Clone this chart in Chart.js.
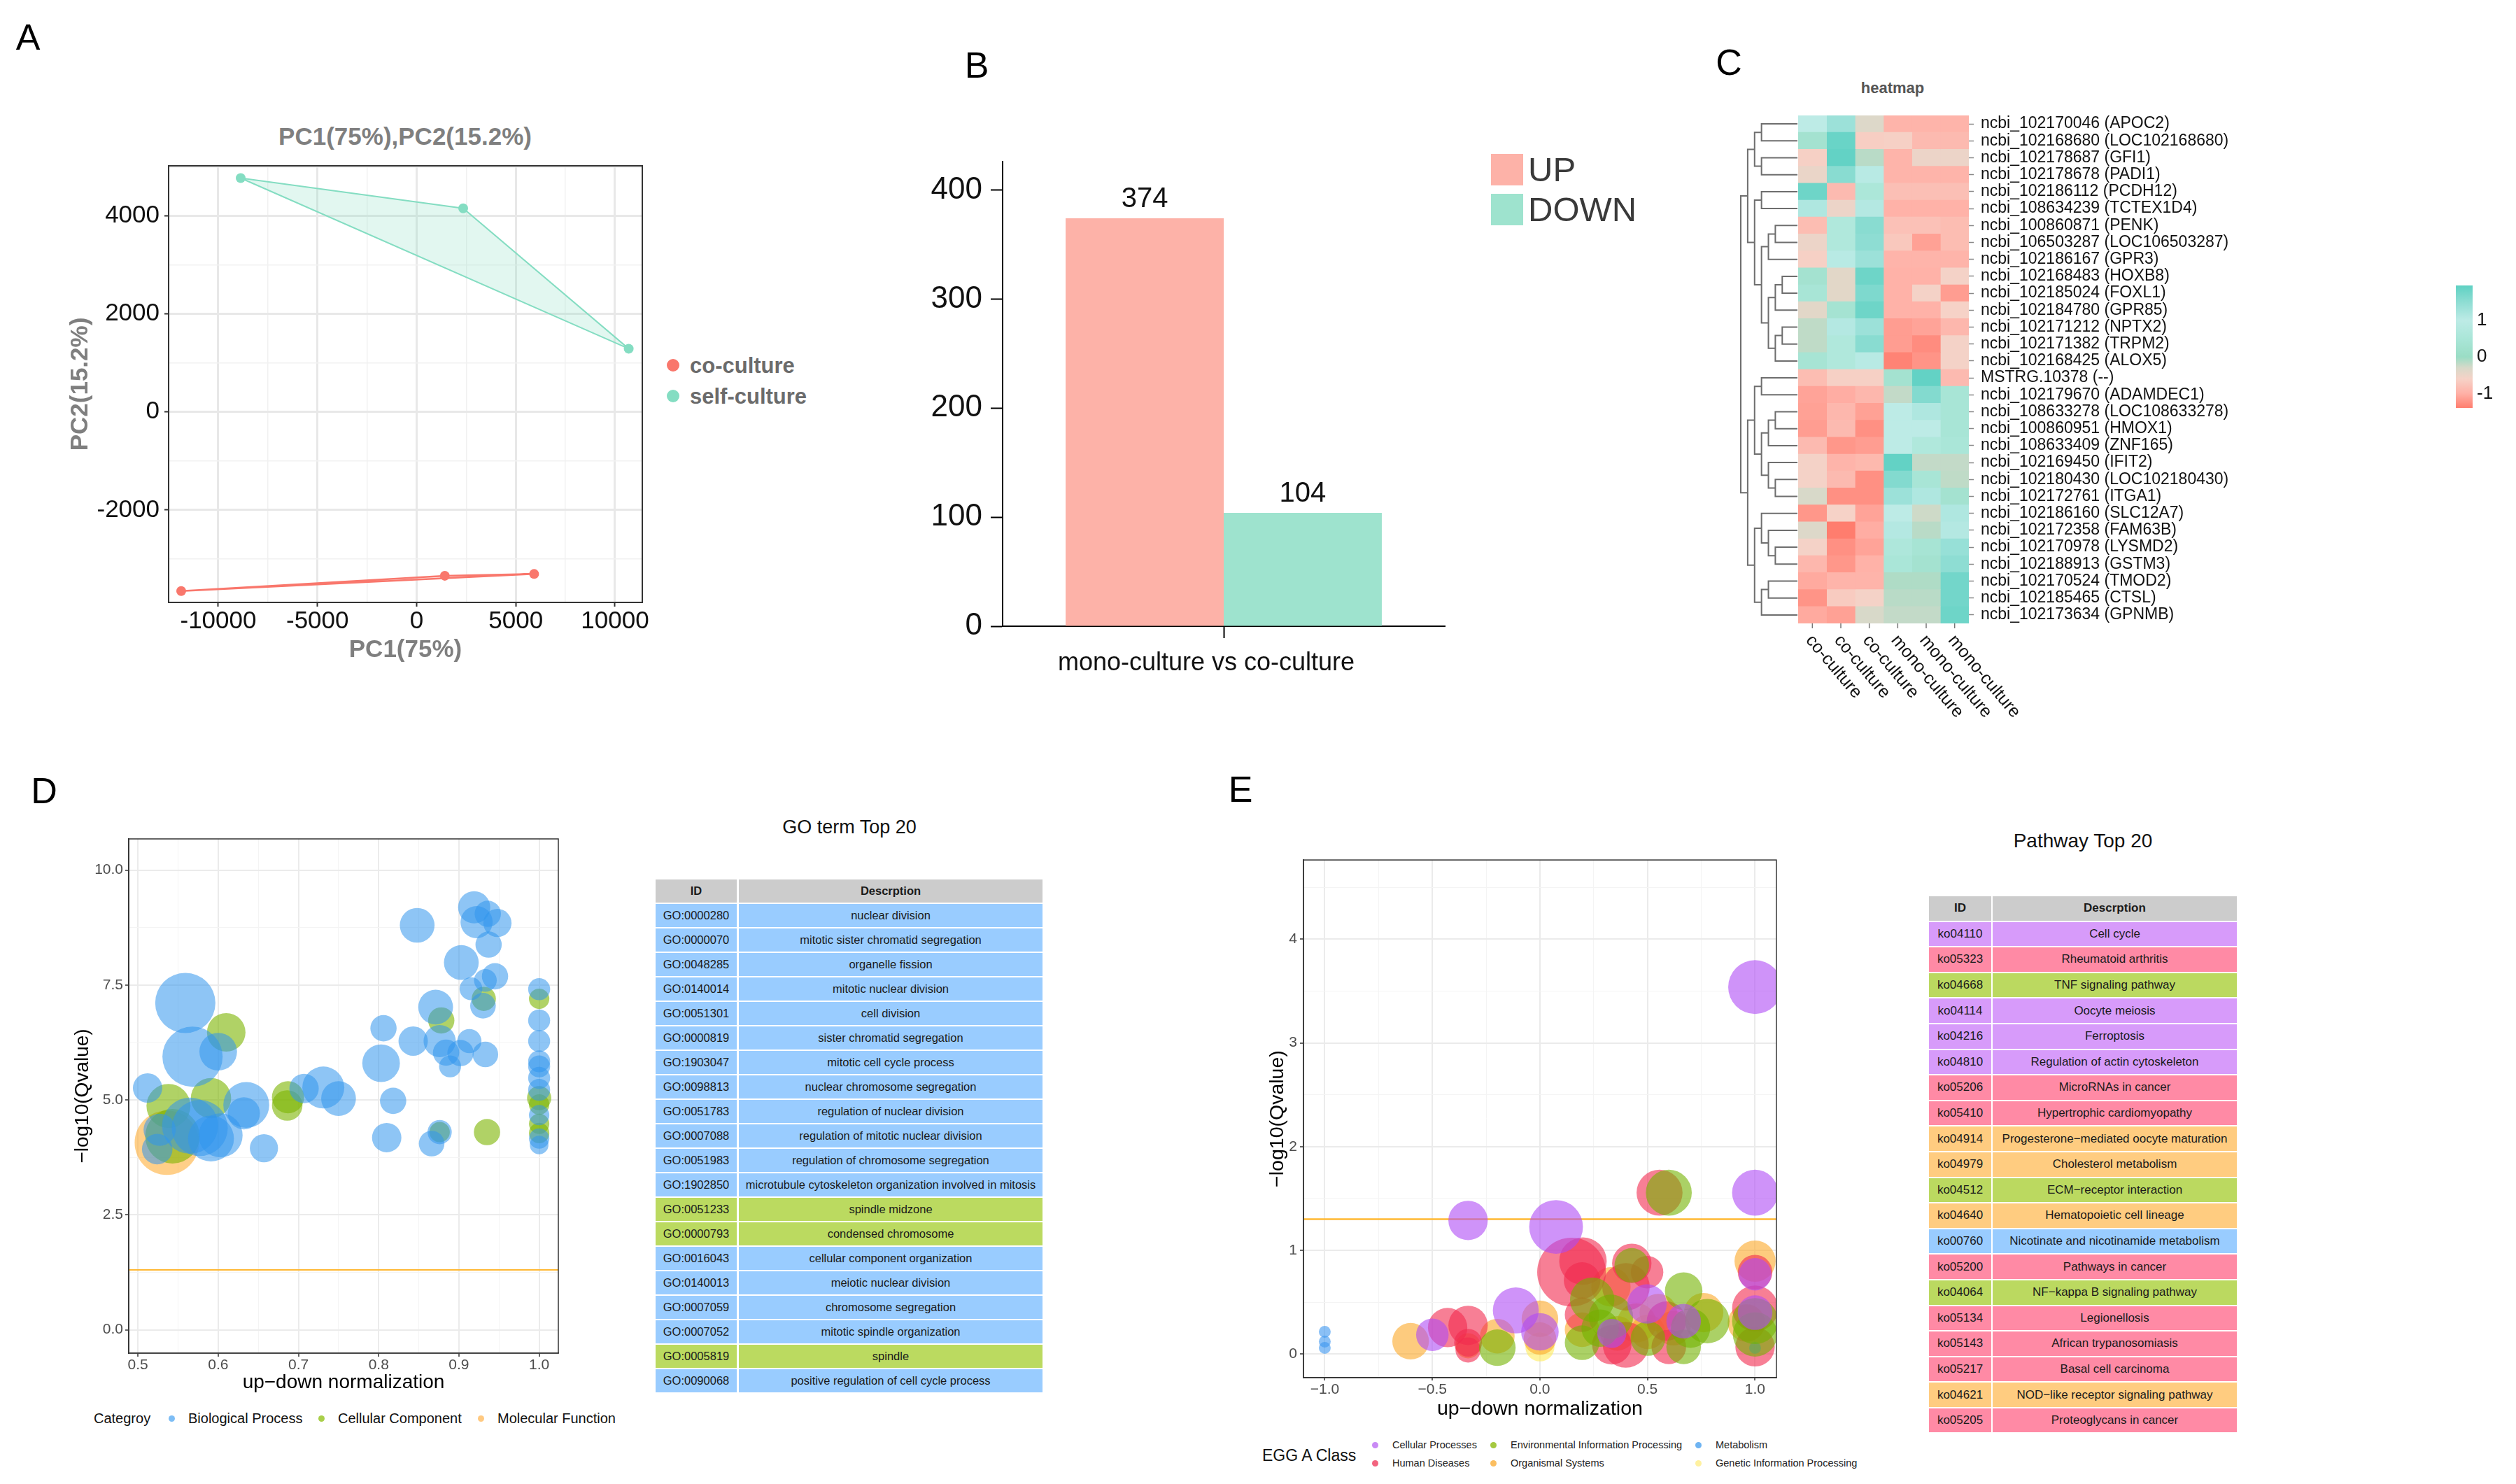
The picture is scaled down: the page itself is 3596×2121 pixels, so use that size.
<!DOCTYPE html>
<html><head><meta charset="utf-8">
<script src="https://cdn.jsdelivr.net/npm/chart.js@4.4.1/dist/chart.umd.min.js"></script>
<style>
html,body{margin:0;padding:0;background:#fff;}
body{width:3596px;height:2121px;position:relative;overflow:hidden;font-family:'Liberation Sans',Arial,sans-serif;color:#111;}
canvas{position:absolute;}
.lbl{position:absolute;white-space:nowrap;line-height:1;}
.dot{position:absolute;border-radius:50%;}
table.tb{position:absolute;border-collapse:separate;border-spacing:0;font-family:'Liberation Sans',Arial,sans-serif;color:#1a1a1a;}
table.tb td{padding:0;text-align:center;vertical-align:middle;border-bottom:2px solid #fff;white-space:nowrap;}
</style></head><body>
<script>
// ================= DATA =================
// Panel A : PCA
const pcaGroups = ['co-culture', 'self-culture'];
const coPC1 = [-11870, 1421, 5922];
const coPC2 = [-3655, -3342, -3306];
const selfPC1 = [-8871, 2346, 10691];
const selfPC2 = [4771, 4154, 1290];

// Panel B : DEG counts
const degCompare = ['mono-culture vs co-culture'];
const degLabels = ['UP', 'DOWN'];
const degCounts = [374, 104];

// Panel C : heatmap
const heatGenes = ['ncbi_102170046 (APOC2)','ncbi_102168680 (LOC102168680)','ncbi_102178687 (GFI1)','ncbi_102178678 (PADI1)','ncbi_102186112 (PCDH12)','ncbi_108634239 (TCTEX1D4)','ncbi_100860871 (PENK)','ncbi_106503287 (LOC106503287)','ncbi_102186167 (GPR3)','ncbi_102168483 (HOXB8)','ncbi_102185024 (FOXL1)','ncbi_102184780 (GPR85)','ncbi_102171212 (NPTX2)','ncbi_102171382 (TRPM2)','ncbi_102168425 (ALOX5)','MSTRG.10378 (--)','ncbi_102179670 (ADAMDEC1)','ncbi_108633278 (LOC108633278)','ncbi_100860951 (HMOX1)','ncbi_108633409 (ZNF165)','ncbi_102169450 (IFIT2)','ncbi_102180430 (LOC102180430)','ncbi_102172761 (ITGA1)','ncbi_102186160 (SLC12A7)','ncbi_102172358 (FAM63B)','ncbi_102170978 (LYSMD2)','ncbi_102188913 (GSTM3)','ncbi_102170524 (TMOD2)','ncbi_102185465 (CTSL)','ncbi_102173634 (GPNMB)'];
const heatSamples = ['co-culture','co-culture','co-culture','mono-culture','mono-culture','mono-culture'];
const heatZ = [
 [1.0, 1.35, -0.35, -0.95, -0.95, -0.95],
 [0.3, 1.85, -0.65, -0.62, -0.88, -0.88],
 [-0.62, 1.9, -0.15, -0.95, -0.5, -0.5],
 [-0.48, 1.55, 1.05, -0.95, -0.95, -0.95],
 [1.8, -0.88, 0.55, -0.82, -0.82, -0.82],
 [1.15, -0.5, 1.1, -0.98, -0.98, -0.98],
 [-0.85, 0.65, 1.55, -0.8, -0.8, -0.85],
 [-0.5, 0.65, 1.5, -0.72, -1.12, -0.85],
 [-0.62, 1.05, 1.35, -0.95, -0.95, -0.95],
 [0.3, -0.4, 1.8, -0.98, -0.98, -0.58],
 [0.45, -0.4, 1.65, -0.98, -0.58, -1.15],
 [-0.4, 0.35, 1.8, -0.98, -0.98, -0.6],
 [-0.18, 1.1, 1.35, -1.15, -1.1, -0.92],
 [-0.18, 0.65, 1.55, -1.15, -1.28, -0.58],
 [0.4, 0.65, 1.05, -1.35, -1.22, -0.58],
 [-0.85, -0.62, -0.62, 0.3, 1.9, -0.88],
 [-1.1, -1.02, -0.92, -0.2, 1.6, 0.45],
 [-1.12, -0.92, -1.12, 1.0, 1.15, 0.45],
 [-1.15, -0.88, -1.25, 1.0, 1.0, 0.45],
 [-0.88, -1.2, -1.15, 1.0, 0.65, 0.5],
 [-0.58, -0.95, -0.9, 1.9, -0.2, -0.2],
 [-0.58, -0.88, -1.25, 1.6, 0.45, -0.18],
 [-0.3, -1.25, -1.25, 1.35, 1.15, 0.3],
 [-1.2, -0.6, -1.1, 1.0, -0.25, 1.15],
 [-0.35, -1.4, -1.02, 1.1, -0.15, 1.1],
 [-0.58, -1.25, -1.1, 0.6, 0.4, 1.4],
 [-0.92, -1.2, -0.98, 0.5, 0.3, 1.5],
 [-1.05, -0.95, -0.95, -0.1, -0.1, 1.75],
 [-1.22, -0.68, -0.58, -0.15, -0.15, 1.75],
 [-1.05, -1.12, -0.3, -0.2, -0.2, 1.8]
];
const heatLegendRange = [-1.39, 1.95];
// row dendrogram: [mergeHeight, left, right]; leaves are row indices
const dendroTree = [8.2,
  [7.2,
    [6.2, [5.2, 0, 1], [5.2, 2, 3]],
    [6.2, [5.2, 4, 5],
          [5.2, [4.2, [3.2, 6, 7], 8],
                [4.2, [3.2, [2.2, 9, 10], 11], [3.2, [2.2, 12, 13], 14]]]]],
  [7.2,
    [6.2, [5.2, 15, 16],
          [5.2, [4.2, [3.2, 17, 18], 19], [4.2, 20, [3.2, 21, 22]]]],
    [6.2, [5.2, 23, [4.2, 24, [3.2, 25, 26]]], [5.2, [4.2, 27, 28], 29]]]];

// Panel D : GO bubbles
const goCategories = ['Biological Process', 'Cellular Component', 'Molecular Function'];
const goX = [0.559,0.568,0.600,0.610,0.512,0.538,0.591,0.635,0.632,0.565,
 0.577,0.591,0.603,0.536,0.543,0.524,0.527,0.657,0.687,0.686,
 0.707,0.731,0.750,0.803,0.806,0.818,0.810,0.848,0.843,0.871,
 0.878,0.876,0.884,0.889,0.902,0.913,0.933,0.876,0.876,0.866,
 0.935,0.903,0.919,0.922,0.936,0.948,0.937,0.945,0.933,0.915,
 0.930,0.931,
 1.0,1.0,1.0,1.0,1.0,1.0,1.0,1.0,1.0,1.0,1.0,1.0,1.0,1.0,1.0];
const goY = [7.11,5.94,6.05,6.47,5.26,4.87,5.04,4.89,4.71,4.44,
 4.39,4.16,4.23,4.07,4.21,3.93,4.35,3.95,5.06,4.88,
 5.25,5.27,5.03,5.80,6.56,4.98,4.18,8.80,6.28,7.02,
 6.73,6.28,6.03,5.73,6.02,6.28,5.99,4.30,4.30,4.05,
 4.30,7.99,9.19,8.87,9.05,8.85,8.38,7.69,7.60,7.42,
 7.05,7.20,
 7.41,7.20,6.73,6.28,5.84,5.73,5.48,5.22,5.04,4.90,4.67,4.48,4.28,4.16,4.02];
const goCount = [105,105,41,43,25,56,47,61,30,91,
 91,61,56,120,86,27,30,23,30,27,
 25,51,35,41,20,20,25,35,25,35,
 20,30,20,14,20,17,19,17,12,19,
 20,35,30,30,20,23,20,20,15,15,
 19,17,
 14,12,14,14,14,14,14,14,17,12,12,12,12,12,10];
const goCat = [0,0,0,1,0,1,1,0,0,0,
 0,0,0,2,1,0,0,0,1,1,
 0,0,0,0,0,0,0,0,0,0,
 1,0,0,0,0,0,0,0,1,0,
 1,0,0,0,0,0,0,0,0,0,
 0,1,
 0,1,0,0,0,0,0,0,1,1,0,1,1,0,0];
const qThreshold = 0.05;

// GO table
const goIds = ['GO:0000280','GO:0000070','GO:0048285','GO:0140014','GO:0051301','GO:0000819','GO:1903047','GO:0098813','GO:0051783','GO:0007088','GO:0051983','GO:1902850','GO:0051233','GO:0000793','GO:0016043','GO:0140013','GO:0007059','GO:0007052','GO:0005819','GO:0090068'];
const goDesc = ['nuclear division','mitotic sister chromatid segregation','organelle fission','mitotic nuclear division','cell division','sister chromatid segregation','mitotic cell cycle process','nuclear chromosome segregation','regulation of nuclear division','regulation of mitotic nuclear division','regulation of chromosome segregation','microtubule cytoskeleton organization involved in mitosis','spindle midzone','condensed chromosome','cellular component organization','meiotic nuclear division','chromosome segregation','mitotic spindle organization','spindle','positive regulation of cell cycle process'];
const goRowCat = [0,0,0,0,0,0,0,0,0,0,0,0,1,1,0,0,0,0,1,0];

// Panel E : KEGG bubbles
const keggClasses = ['Cellular Processes','Environmental Information Processing','Metabolism','Human Diseases','Organismal Systems','Genetic Information Processing'];
const keggX = [-1,-1,-1,-0.601,-0.5,-0.429,-0.334,-0.334,-0.334,-0.334,
 -0.334,-0.198,-0.198,-0.112,0.075,0.147,0.2,0.196,0.0,0.0,
 0.0,0.0,0.196,0.196,0.196,0.243,0.33,0.33,0.4,0.427,
 0.427,0.498,0.498,0.334,0.399,0.334,0.502,0.502,0.556,0.599,
 0.599,0.588,0.668,0.668,0.668,0.761,0.778,1.0,1.0,1.0,
 1.0,1.0,1.0,1.0,1.0,1.0,1.0,1.0,0.55,0.62,
 0.45,0.28,0.36,0.7,0.96];
const keggY = [0.215,0.12,0.06,0.124,0.186,0.256,0.277,0.11,0.08,0.04,
 1.288,0.173,0.062,0.421,1.226,0.79,0.896,0.71,0.34,0.215,
 0.15,0.07,0.38,0.11,0.235,0.524,0.648,0.36,0.648,0.875,
 0.855,0.79,0.483,0.09,0.09,0.2,0.215,0.15,1.556,1.556,
 0.07,0.318,0.607,0.318,0.07,0.4,0.318,3.538,1.556,0.896,
 0.79,0.77,0.44,0.318,0.40,0.19,0.07,0.06,0.4,0.25,
 0.3,0.25,0.2,0.25,0.3];
const keggCount = [2,2,2,19,15,22,22,11,9,9,
 22,17,19,30,41,67,32,19,19,20,
 15,12,17,17,17,28,22,28,32,22,
 17,15,22,22,30,12,17,17,30,30,
 17,22,20,17,17,22,28,41,30,24,
 17,15,30,30,17,28,22,2,20,17,
 22,20,17,22,20];
const keggClass = [2,2,2,4,0,3,3,3,4,3,
 0,4,1,0,0,3,3,3,4,0,
 4,5,3,1,4,1,4,1,3,3,
 1,3,0,3,3,0,4,1,3,1,
 3,3,1,0,1,4,1,0,0,4,
 3,0,3,1,0,1,3,2,4,4,
 4,1,4,1,4];

// Pathway table
const koIds = ['ko04110','ko05323','ko04668','ko04114','ko04216','ko04810','ko05206','ko05410','ko04914','ko04979','ko04512','ko04640','ko00760','ko05200','ko04064','ko05134','ko05143','ko05217','ko04621','ko05205'];
const koDesc = ['Cell cycle','Rheumatoid arthritis','TNF signaling pathway','Oocyte meiosis','Ferroptosis','Regulation of actin cytoskeleton','MicroRNAs in cancer','Hypertrophic cardiomyopathy','Progesterone\u2212mediated oocyte maturation','Cholesterol metabolism','ECM\u2212receptor interaction','Hematopoietic cell lineage','Nicotinate and nicotinamide metabolism','Pathways in cancer','NF\u2212kappa B signaling pathway','Legionellosis','African trypanosomiasis','Basal cell carcinoma','NOD\u2212like receptor signaling pathway','Proteoglycans in cancer'];
const koRowClass = [0,3,1,0,0,0,3,3,4,4,1,4,2,3,1,3,3,3,4,3];

// ================= STYLE / HELPERS =================
const SANS = "'Liberation Sans', Arial, sans-serif";
Chart.defaults.font.family = SANS;
Chart.defaults.animation = false;
Chart.defaults.responsive = false;
Chart.defaults.devicePixelRatio = 1;
Chart.defaults.plugins.legend.display = false;
Chart.defaults.plugins.tooltip.enabled = false;

const CO_COL = '#F9776C', SELF_COL = '#84DDC2';
const UP_COL = '#FDB2A8', DOWN_COL = '#9EE3CE';
const goFill = ['rgba(50,150,237,0.55)', 'rgba(124,180,0,0.6)', 'rgba(255,167,38,0.55)'];
const goLegendCol = ['#7DBDF5', '#A9CF4A', '#FFC980'];
const goRowColor = ['#99CCFF', '#BBDA60'];
const keggFill = ['rgba(175,75,245,0.6)', 'rgba(115,178,0,0.6)', 'rgba(60,150,240,0.6)', 'rgba(242,42,79,0.6)', 'rgba(252,168,40,0.6)', 'rgba(255,235,90,0.6)'];
const keggLegendCol = ['#C98AF5', '#A5C940', '#6FB4F2', '#F2647F', '#FBBE60', '#FFF1A0'];
const koRowColor = ['#D79BFA', '#BBD960', '#99CCFF', '#FF8AA5', '#FFCC80', '#FFF3A0'];
const heatStops = [[-1.4,'#FF7D6E'],[-1.0,'#FFB0A6'],[-0.6,'#F6D2C7'],[-0.3,'#D8D9C9'],[0,'#9ADDC5'],[0.5,'#AAE6D8'],[1.0,'#BDEBE6'],[1.5,'#8EDDD3'],[1.95,'#5ED1C3']];

function hex2rgb(h){return [1,3,5].map(i=>parseInt(h.slice(i,i+2),16));}
function zColor(z){
  if (z <= heatStops[0][0]) return heatStops[0][1];
  for (let k=1;k<heatStops.length;k++){
    if (z <= heatStops[k][0]){
      const [z0,c0]=heatStops[k-1],[z1,c1]=heatStops[k];
      const t=(z-z0)/(z1-z0), a=hex2rgb(c0), b=hex2rgb(c1);
      return 'rgb('+a.map((v,i)=>Math.round(v+(b[i]-v)*t)).join(',')+')';
    }
  }
  return heatStops[heatStops.length-1][1];
}
function mk(id,left,top,w,h){
  const c=document.createElement('canvas'); c.id=id; c.width=w; c.height=h;
  c.style.left=left+'px'; c.style.top=top+'px'; c.style.width=w+'px'; c.style.height=h+'px';
  document.body.appendChild(c); return c;
}
function txt(s,x,y,style,anchor){
  const d=document.createElement('div'); d.className='lbl'; d.textContent=s;
  d.style.left=x+'px'; d.style.top=y+'px'; Object.assign(d.style,style||{});
  d.style.transform = anchor==='left' ? 'translateY(-50%)' : 'translate(-50%,-50%)';
  document.body.appendChild(d); return d;
}
function dot(x,y,r,col){
  const d=document.createElement('div'); d.className='dot';
  Object.assign(d.style,{left:(x-r)+'px',top:(y-r)+'px',width:2*r+'px',height:2*r+'px',background:col});
  document.body.appendChild(d);
}
const zeroPad = s => { s.paddingTop=0; s.paddingBottom=0; s.paddingLeft=0; s.paddingRight=0; };
const fixW = w => s => { s.width=w; zeroPad(s); };
const fixH = h => s => { s.height=h; zeroPad(s); };
const isMult = (v,m) => Math.abs(v/m - Math.round(v/m)) < 1e-6;
// ticks at every multiple of `step` inside the axis range
const stepTicks = step => s => {
  const out=[], k0=Math.ceil(s.min/step-1e-9), k1=Math.floor(s.max/step+1e-9);
  for(let k=k0;k<=k1;k++) out.push({value:+(k*step).toFixed(6)});
  s.ticks=out;
};
function gridOpts(step, majC, minC, majW, minW, tl, tickC, tw){
  const mj = c => !!(c.tick && isMult(c.tick.value, step));
  return { color: c => mj(c)?majC:minC, lineWidth: c => mj(c)?majW:minW,
           tickColor: c => mj(c)?tickC:'rgba(0,0,0,0)', tickLength: tl, tickWidth: tw, drawTicks: true };
}
const framePlugin = { id:'frame', afterDatasetsDraw(chart, args, o){
  if(!o || !o.color) return; const a=chart.chartArea, ctx=chart.ctx;
  ctx.save(); ctx.strokeStyle=o.color; ctx.lineWidth=o.width; ctx.strokeRect(a.left,a.top,a.right-a.left,a.bottom-a.top); ctx.restore(); } };
const pts = (xs,ys) => xs.map((x,i)=>({x, y: ys[i]}));
function hull(xs,ys){
  const p = pts(xs,ys).sort((a,b)=>a.x-b.x||a.y-b.y);
  const cr=(o,a,b)=>(a.x-o.x)*(b.y-o.y)-(a.y-o.y)*(b.x-o.x);
  const lo=[],up=[];
  for(const q of p){while(lo.length>=2&&cr(lo[lo.length-2],lo[lo.length-1],q)<=0)lo.pop();lo.push(q);}
  for(const q of p.slice().reverse()){while(up.length>=2&&cr(up[up.length-2],up[up.length-1],q)<=0)up.pop();up.push(q);}
  lo.pop(); up.pop(); const h=lo.concat(up); h.push(h[0]); return h;
}

// ================= PANEL LETTERS =================
const letterStyle = {fontSize:'52px', color:'#000'};
txt('A',40,53,letterStyle); txt('B',1396,93,letterStyle); txt('C',2471,89,letterStyle);
txt('D',63,1130,letterStyle); txt('E',1773,1128,letterStyle);

// ================= PANEL A =================
txt('PC1(75%),PC2(15.2%)',579,194,{fontSize:'35px',fontWeight:'bold',color:'#7f7f7f'});
new Chart(mk('pca',0,150,930,811), {
  type:'bubble',
  data:{datasets:[
    {data:pts(coPC1,coPC2).map(p=>({x:p.x,y:p.y,r:7})), backgroundColor:CO_COL, borderWidth:0},
    {data:pts(selfPC1,selfPC2).map(p=>({x:p.x,y:p.y,r:7})), backgroundColor:SELF_COL, borderWidth:0},
    {type:'scatter', data:hull(coPC1,coPC2), showLine:true, fill:'shape', backgroundColor:'rgba(249,119,108,0.18)', borderColor:CO_COL, borderWidth:2.5, pointRadius:0, tension:0},
    {type:'scatter', data:hull(selfPC1,selfPC2), showLine:true, fill:'shape', backgroundColor:'rgba(132,221,194,0.24)', borderColor:SELF_COL, borderWidth:2, pointRadius:0, tension:0}
  ]},
  options:{
    layout:{padding:{left:0,top:87,right:12,bottom:0}},
    scales:{
      x:{type:'linear',min:-12504,max:11376,afterFit:fixH(100),afterBuildTicks:stepTicks(2500),
         ticks:{autoSkip:false,maxRotation:0,padding:0,color:'#111',font:{size:35},callback:v=>isMult(v,5000)?String(v):''},
         grid:gridOpts(5000,'#e8e8e8','#f1f1f1',3,1.5,6,'#333',2),
         border:{display:true,color:'#333',width:2},
         title:{display:true,text:'PC1(75%)',color:'#7f7f7f',font:{size:35,weight:'bold'},padding:{top:0,bottom:11}}},
      y:{type:'linear',min:-3886,max:5021,afterFit:fixW(241),afterBuildTicks:stepTicks(1000),
         ticks:{autoSkip:false,padding:7,color:'#111',font:{size:35},callback:v=>isMult(v,2000)?String(v):''},
         grid:gridOpts(2000,'#e8e8e8','#f1f1f1',3,1.5,6,'#333',2),
         border:{display:true,color:'#333',width:2},
         title:{display:true,text:'PC2(15.2%)',color:'#7f7f7f',font:{size:35,weight:'bold'},padding:{top:94,bottom:0}}}
    },
    plugins:{frame:{color:'#333',width:2}}
  },
  plugins:[framePlugin]
});
[CO_COL, SELF_COL].forEach((c,i)=>{ dot(962,522+44*i,9,c); txt(pcaGroups[i],986,522+44*i,{fontSize:'31px',fontWeight:'bold',color:'#6b6b6b'},'left'); });

// ================= PANEL B =================
const barValuePlugin = { id:'barValues', afterDatasetsDraw(chart){
  const ctx=chart.ctx; ctx.save(); ctx.font="40px "+SANS; ctx.fillStyle='#111'; ctx.textAlign='center'; ctx.textBaseline='middle';
  chart.data.datasets.forEach((ds,i)=>chart.getDatasetMeta(i).data.forEach((el,j)=>ctx.fillText(String(ds.data[j]),el.x,el.y-27)));
  ctx.restore(); } };
new Chart(mk('deg',1300,180,780,805), {
  type:'bar',
  data:{labels:degCompare, datasets:[
    {label:degLabels[0], data:[degCounts[0]], backgroundColor:UP_COL},
    {label:degLabels[1], data:[degCounts[1]], backgroundColor:DOWN_COL}]},
  options:{
    categoryPercentage:0.715, barPercentage:1,
    layout:{padding:{left:0,top:51,right:15,bottom:0}},
    scales:{
      x:{afterFit:fixH(90), ticks:{color:'#111',font:{size:36},padding:14,labelOffset:-25},
         grid:{display:true,drawOnChartArea:false,drawTicks:true,tickLength:17,tickColor:'#000',tickWidth:2,offset:false},
         border:{display:true,color:'#000',width:2}},
      y:{min:0,max:426,afterFit:fixW(133),afterBuildTicks:stepTicks(100),
         ticks:{color:'#111',font:{size:44},padding:12},
         grid:{display:true,drawOnChartArea:false,drawTicks:true,tickLength:17,tickColor:'#000',tickWidth:2},
         border:{display:true,color:'#000',width:2}}
    }
  },
  plugins:[barValuePlugin]
});
[UP_COL, DOWN_COL].forEach((c,i)=>{
  const b=document.createElement('div'); Object.assign(b.style,{position:'absolute',left:'2131px',top:(220+57*i)+'px',width:'46px',height:'45px',background:c});
  document.body.appendChild(b);
  txt(degLabels[i],2184,242+57*i,{fontSize:'49px',color:'#3a3a3a'},'left');
});

// ================= PANEL C =================
txt('heatmap',2705,126,{fontSize:'22px',fontWeight:'bold',color:'#555'});
const colLabelPlugin = { id:'colLabels', afterDraw(chart){
  const ctx=chart.ctx, xs=chart.scales.x, bottom=chart.chartArea.bottom;
  ctx.save(); ctx.strokeStyle='#777'; ctx.lineWidth=1.5; ctx.fillStyle='#111'; ctx.font="25px "+SANS;
  heatSamples.forEach((s,j)=>{
    const px=xs.getPixelForValue(j+0.5);
    ctx.beginPath(); ctx.moveTo(px,bottom); ctx.lineTo(px,bottom+7); ctx.stroke();
    ctx.save(); ctx.translate(px-5,bottom+20); ctx.rotate(50*Math.PI/180); ctx.textAlign='left'; ctx.textBaseline='middle'; ctx.fillText(s,0,0); ctx.restore();
  });
  ctx.restore(); } };
new Chart(mk('heat',2570,150,644,940), {
  type:'bar',
  data:{labels:heatGenes, datasets:heatSamples.map((s,j)=>({
    label:s, data:heatGenes.map(()=>[j,j+1]), backgroundColor:heatZ.map(r=>zColor(r[j])),
    grouped:false, barPercentage:1, categoryPercentage:1, borderWidth:0 }))},
  options:{
    indexAxis:'y',
    layout:{padding:{left:0,top:15,right:0,bottom:199}},
    scales:{
      x:{type:'linear',min:0,max:6,display:false},
      y:{position:'right',afterFit:fixW(400),
         ticks:{autoSkip:false,color:'#111',font:{size:23},padding:10},
         grid:{display:true,drawOnChartArea:false,drawTicks:true,tickLength:7,tickColor:'#888',tickWidth:1.5,offset:false},
         border:{display:false}}
    }
  },
  plugins:[colLabelPlugin]
});
const dendroSegs=[];
function layoutTree(n){
  if(typeof n==='number') return {y:n,h:0};
  const A=layoutTree(n[1]), B=layoutTree(n[2]);
  dendroSegs.push([{x:A.h,y:A.y},{x:n[0],y:A.y},{x:n[0],y:B.y},{x:B.h,y:B.y}]);
  return {y:(A.y+B.y)/2,h:n[0]};
}
layoutTree(dendroTree);
new Chart(mk('dendro',2478,160,94,736), {
  type:'scatter',
  data:{datasets:dendroSegs.map(s=>({data:s,showLine:true,borderColor:'#6e6e6e',borderWidth:2,pointRadius:0,tension:0,clip:false}))},
  options:{
    layout:{padding:{left:10,right:3,top:5,bottom:5}},
    scales:{x:{type:'linear',min:0,max:dendroTree[0],reverse:true,display:false},
            y:{type:'linear',min:-0.5,max:heatGenes.length-0.5,reverse:true,display:false}}
  }
});
new Chart(mk('heatkey',3500,400,96,190), {
  type:'bar',
  data:{labels:['z'], datasets:[{data:[heatLegendRange], barPercentage:1, categoryPercentage:1, borderWidth:0,
    backgroundColor:(c)=>{ const a=c.chart.chartArea; if(!a) return '#ccc';
      const g=c.chart.ctx.createLinearGradient(0,a.bottom,0,a.top);
      const [lo,hi]=heatLegendRange;
      heatStops.forEach(([v,col])=>g.addColorStop(Math.min(1,Math.max(0,(v-lo)/(hi-lo))),col));
      return g; }}]},
  options:{
    layout:{padding:{left:10,right:0,top:8,bottom:7}},
    scales:{
      x:{display:false},
      y:{position:'right',min:heatLegendRange[0],max:heatLegendRange[1],afterFit:fixW(62),afterBuildTicks:stepTicks(1),z:1,
         ticks:{color:'#111',font:{size:26},padding:6},
         grid:{display:true,drawOnChartArea:true,drawTicks:false,color:'#ffffff',lineWidth:2},
         border:{display:false,dash:[5,14]}}
    }
  }
});

// ================= PANEL D =================
const goRadius = n => 4.2*Math.sqrt(n);
const dX=[0.4885,1.0239], dY=[-0.51,10.68];
new Chart(mk('go',0,1150,844,854), {
  type:'bubble',
  data:{datasets:[
    ...goCategories.map((c,k)=>({label:c, data:goX.map((x,i)=>({x,y:goY[i],r:goRadius(goCount[i]),k:goCat[i]})).filter(p=>p.k===k),
        backgroundColor:goFill[k], borderWidth:0})),
    {type:'scatter', data:[{x:dX[0],y:-Math.log10(qThreshold)},{x:dX[1],y:-Math.log10(qThreshold)}], showLine:true, borderColor:'#FFB833', borderWidth:2, pointRadius:0}
  ]},
  options:{
    layout:{padding:{left:0,top:49,right:10,bottom:0}},
    scales:{
      x:{type:'linear',min:dX[0],max:dX[1],afterFit:fixH(70),afterBuildTicks:stepTicks(0.05),
         ticks:{autoSkip:false,maxRotation:0,padding:0,color:'#4d4d4d',font:{size:21},callback:v=>isMult(v,0.1)?v.toFixed(1):''},
         grid:gridOpts(0.1,'#ebebeb','#f4f4f4',2,1,5,'#333',1.5),
         border:{display:true,color:'#333',width:1.5},
         title:{display:true,text:'up\u2212down normalization',color:'#000',font:{size:28},padding:{top:0,bottom:11}}},
      y:{type:'linear',min:dY[0],max:dY[1],afterFit:fixW(184),afterBuildTicks:stepTicks(1.25),
         ticks:{autoSkip:false,padding:3,color:'#4d4d4d',font:{size:21},callback:v=>isMult(v,2.5)?v.toFixed(1):''},
         grid:gridOpts(2.5,'#ebebeb','#f4f4f4',2,1,5,'#333',1.5),
         border:{display:true,color:'#333',width:1.5},
         title:{display:true,text:'\u2212log10(Qvalue)',color:'#000',font:{size:28},padding:{top:101,bottom:0}}}
    },
    plugins:{frame:{color:'#333',width:1.5}}
  },
  plugins:[framePlugin]
});
txt('Categroy',134,2027,{fontSize:'20px',color:'#111'},'left');
[245,459,687].forEach((x,k)=>{ dot(x,2027,4.5,goLegendCol[k]); txt(goCategories[k],x+24,2027,{fontSize:'20px',color:'#111'},'left'); });

txt('GO term Top 20',1214,1182,{fontSize:'27px',color:'#111'});
function buildTable(left,top,wId,wDesc,gap,h,fs,ids,descs,rowCols){
  const t=document.createElement('table'); t.className='tb'; t.style.left=left+'px'; t.style.top=top+'px'; t.style.fontSize=fs+'px';
  const row=(a,b,bg,bold)=>{ const tr=document.createElement('tr');
    [[a,wId],[b,wDesc]].forEach(([s,w],ci)=>{ const td=document.createElement('td'); td.textContent=s;
      Object.assign(td.style,{width:w+'px',minWidth:w+'px',maxWidth:w+'px',height:h+'px',background:bg,fontWeight:bold?'bold':'normal'});
      if(ci===0) td.style.borderRight=gap+'px solid #fff';
      tr.appendChild(td); });
    t.appendChild(tr); };
  row('ID','Descrption','#CCCCCC',true);
  ids.forEach((id,i)=>row(id,descs[i],rowCols[i],false));
  document.body.appendChild(t);
}
buildTable(937,1257,116,434,3,33,16.5,goIds,goDesc,goRowCat.map(c=>goRowColor[c]));

// ================= PANEL E =================
const keggRadius = n => 6*Math.sqrt(n);
const eX=[-1.099,1.099], eY=[-0.227,4.763];
const fmtE = v => (v<0?'\u2212':'')+Math.abs(v).toFixed(1);
new Chart(mk('kegg',1760,1180,828,859), {
  type:'bubble',
  data:{datasets:[
    ...keggClasses.map((c,k)=>({label:c, data:keggX.map((x,i)=>({x,y:keggY[i],r:keggRadius(keggCount[i]),k:keggClass[i]})).filter(p=>p.k===k),
        backgroundColor:keggFill[k], borderWidth:0})),
    {type:'scatter', data:[{x:eX[0],y:-Math.log10(qThreshold)},{x:eX[1],y:-Math.log10(qThreshold)}], showLine:true, borderColor:'#FFB833', borderWidth:2.5, pointRadius:0}
  ]},
  options:{
    layout:{padding:{left:0,top:40,right:10,bottom:0}},
    scales:{
      x:{type:'linear',min:eX[0],max:eX[1],afterFit:fixH(70),afterBuildTicks:stepTicks(0.25),
         ticks:{autoSkip:false,maxRotation:0,padding:1,color:'#4d4d4d',font:{size:21},callback:v=>isMult(v,0.5)?fmtE(v):''},
         grid:gridOpts(0.5,'#ebebeb','#f4f4f4',2,1,4,'#333',1.5),
         border:{display:true,color:'#333',width:1.5},
         title:{display:true,text:'up\u2212down normalization',color:'#000',font:{size:28.5},padding:{top:0,bottom:8}}},
      y:{type:'linear',min:eY[0],max:eY[1],afterFit:fixW(103),afterBuildTicks:stepTicks(0.5),
         ticks:{autoSkip:false,padding:4,color:'#4d4d4d',font:{size:21},callback:v=>isMult(v,1)?String(Math.round(v)):''},
         grid:gridOpts(1,'#ebebeb','#f4f4f4',2,1,5,'#333',1.5),
         border:{display:true,color:'#333',width:1.5},
         title:{display:true,text:'\u2212log10(Qvalue)',color:'#000',font:{size:28.5},padding:{top:49,bottom:0}}}
    },
    plugins:{frame:{color:'#333',width:1.5}}
  },
  plugins:[framePlugin]
});
txt('EGG A Class',1804,2080,{fontSize:'23px',color:'#111'},'left');
const eLegPos = [[1965,2065],[2134,2065],[2427,2065],[1965,2091],[2134,2091],[2427,2091]];
eLegPos.forEach(([x,y],k)=>{ dot(x,y,4.5,keggLegendCol[k]); txt(keggClasses[k],x+25,y,{fontSize:'14.5px',color:'#222'},'left'); });

txt('Pathway Top 20',2977,1202,{fontSize:'28px',color:'#111'});
buildTable(2757,1281,89,349,2,34.6,17,koIds,koDesc,koRowClass.map(c=>koRowColor[c]));
</script>
</body></html>
